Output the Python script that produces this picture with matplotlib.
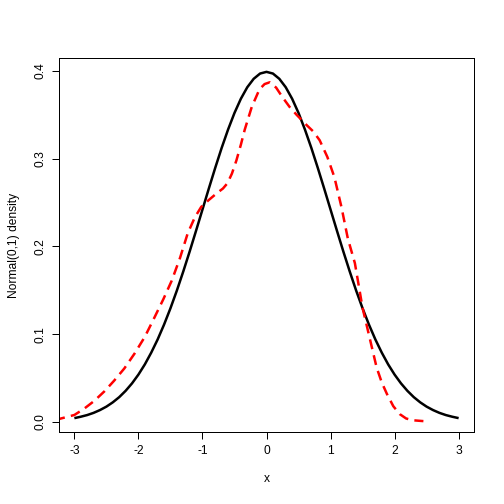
import matplotlib
matplotlib.use('Agg')
import matplotlib.pyplot as plt

# Normal(0,1) density
norm_x = [round(-3 + 0.1 * i, 1) for i in range(61)]
norm_y = [0.0044, 0.0060, 0.0079, 0.0104, 0.0136, 0.0175, 0.0224, 0.0283, 0.0355, 0.0440,
          0.0540, 0.0656, 0.0790, 0.0940, 0.1109, 0.1295, 0.1497, 0.1714, 0.1942, 0.2179,
          0.2420, 0.2661, 0.2897, 0.3123, 0.3332, 0.3521, 0.3683, 0.3814, 0.3910, 0.3970,
          0.3989,
          0.3970, 0.3910, 0.3814, 0.3683, 0.3521, 0.3332, 0.3123, 0.2897, 0.2661, 0.2420,
          0.2179, 0.1942, 0.1714, 0.1497, 0.1295, 0.1109, 0.0940, 0.0790, 0.0656, 0.0540,
          0.0440, 0.0355, 0.0283, 0.0224, 0.0175, 0.0136, 0.0104, 0.0079, 0.0060, 0.0044]

# kernel density estimate
kde_x = [-3.30, -3.24, -3.00, -2.85, -2.69, -2.53, -2.38, -2.22, -2.06, -1.90, -1.75,
         -1.61, -1.48, -1.35, -1.23, -1.12, -1.02, -0.90, -0.77, -0.68, -0.61, -0.54,
         -0.47, -0.40, -0.34, -0.23, -0.11, -0.03, 0.05, 0.15, 0.25, 0.36, 0.47, 0.55,
         0.63, 0.73, 0.83, 0.95, 1.06, 1.17, 1.27, 1.38, 1.50, 1.61, 1.72, 1.80, 1.88,
         1.98, 2.08, 2.18, 2.28, 2.45]
kde_y = [0.002, 0.0034, 0.008, 0.015, 0.024, 0.035, 0.047, 0.061, 0.078, 0.097, 0.119,
         0.140, 0.161, 0.187, 0.215, 0.233, 0.245, 0.253, 0.261, 0.266, 0.272, 0.283,
         0.298, 0.316, 0.333, 0.359, 0.379, 0.385, 0.387, 0.381, 0.370, 0.359, 0.350, 0.344,
         0.338, 0.331, 0.321, 0.302, 0.279, 0.245, 0.209, 0.181, 0.130, 0.096, 0.062, 0.045,
         0.032, 0.018, 0.009, 0.004, 0.002, 0.001]

x_ticks = [-3, -2, -1, 0, 1, 2, 3]
y_ticks = [0.0, 0.1, 0.2, 0.3, 0.4]

plt.rcParams['font.family'] = ['Liberation Sans', 'DejaVu Sans']
plt.rcParams['font.size'] = 12

fig = plt.figure(figsize=(7, 7), dpi=72)
ax = fig.add_axes([59 / 504, 72 / 504, 415 / 504, 374 / 504])

ax.plot(norm_x, norm_y, color='black', linewidth=2.5, solid_capstyle='butt')
ax.plot(kde_x, kde_y, color='red', linewidth=2.5, linestyle=(0, (4, 2.5)),
        dash_capstyle='butt')

ax.set_xlim(-3.24, 3.24)
ax.set_ylim(-0.0114, 0.4147)
ax.set_xticks(x_ticks)
ax.set_xticklabels([str(t) for t in x_ticks])
ax.set_yticks(y_ticks)
ax.set_yticklabels([f'{t:.1f}' for t in y_ticks], rotation=90, va='center')
ax.tick_params(direction='out', length=7, width=1, pad=6, labelsize=12)

for s in ax.spines.values():
    s.set_linewidth(1)
    s.set_color('black')

ax.set_xlabel('x', labelpad=16)
ax.set_ylabel('Normal(0,1) density', labelpad=14)

fig.savefig('out.png', dpi=72)
